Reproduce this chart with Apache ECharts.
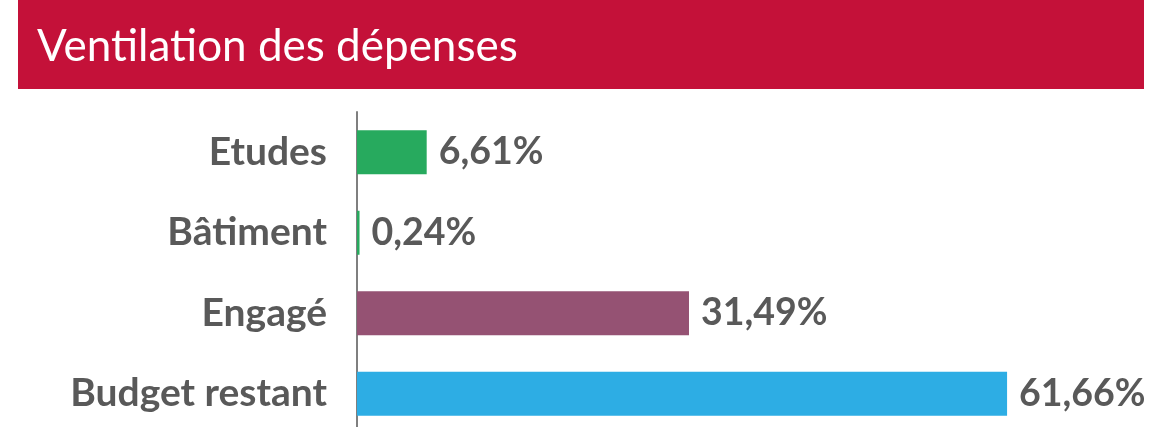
<!DOCTYPE html>
<html>
<head>
<meta charset="utf-8">
<script src="https://cdn.jsdelivr.net/npm/echarts@6/dist/echarts.min.js"></script>
<style>
  html, body { margin: 0; padding: 0; background: #ffffff; }
  #chart { width: 1163px; height: 427px; }
</style>
</head>
<body>
<div id="chart"></div>
<script>
// Expense breakdown (percent of total budget)
const categories = ['Etudes', 'Bâtiment', 'Engagé', 'Budget restant'];
const values = [6.61, 0.24, 31.49, 61.66];
const barColors = ['#27AA5E', '#27AA5E', '#955273', '#2DADE4'];
const titleText = 'Ventilation des dépenses';

const chart = echarts.init(document.getElementById('chart'), null, { renderer: 'canvas' });

const fmtPct = v => v.toFixed(2).replace('.', ',') + '%';

chart.setOption({
  animation: false,
  backgroundColor: '#ffffff',
  graphic: [
    {
      type: 'rect',
      shape: { x: 18, y: 0, width: 1126, height: 89 },
      style: { fill: '#C41139' },
      silent: true
    },
    {
      type: 'text',
      x: 37,
      y: 47,
      style: {
        text: titleText,
        fill: '#ffffff',
        font: '400 44px Lato, "Open Sans", sans-serif',
        textVerticalAlign: 'middle'
      },
      silent: true
    }
  ],
  // the plot runs past the lower edge, so the last band is cut off
  grid: {
    left: 357, top: 112, width: 738, height: 322,
    containLabel: false,
    outerBoundsMode: 'none'
  },
  xAxis: {
    type: 'value',
    min: 0,
    max: 70,
    show: false,
    splitLine: { show: false }
  },
  yAxis: {
    type: 'category',
    data: categories,
    inverse: true,
    axisLine: { show: true, lineStyle: { color: '#7F7F7F', width: 2 } },
    axisTick: { show: false },
    axisLabel: {
      margin: 30,
      color: '#595959',
      fontFamily: 'Lato, "Open Sans", sans-serif',
      fontWeight: 'bold',
      fontSize: 39
    }
  },
  series: [{
    type: 'bar',
    barWidth: 44,
    data: values.map((v, i) => ({ value: v, itemStyle: { color: barColors[i] } })),
    label: {
      show: true,
      position: 'right',
      distance: 12,
      color: '#595959',
      fontFamily: 'Lato, "Open Sans", sans-serif',
      fontWeight: 'bold',
      fontSize: 37.5,
      formatter: p => fmtPct(p.value)
    }
  }]
});
</script>
</body>
</html>
